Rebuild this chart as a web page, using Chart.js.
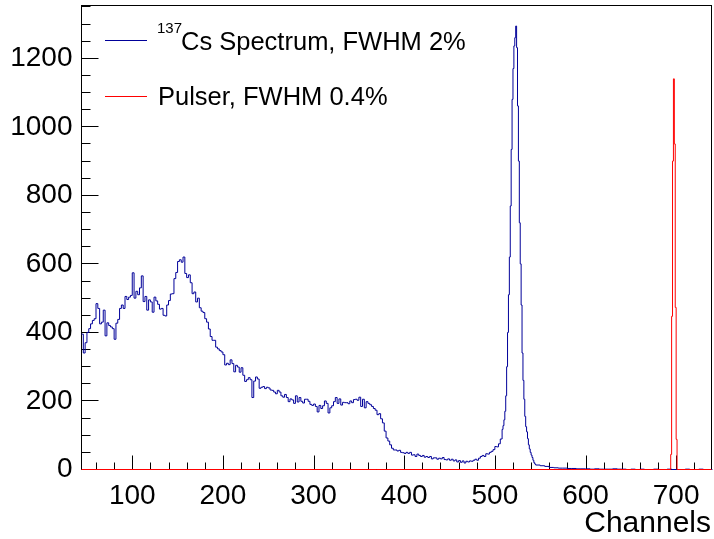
<!DOCTYPE html>
<html>
<head>
<meta charset="utf-8">
<script src="https://cdn.jsdelivr.net/npm/chart.js@4.4.1/dist/chart.umd.min.js"></script>
<style>
  html, body { margin: 0; padding: 0; background: #fff; }
  #chart { display: block; }
</style>
</head>
<body>
<canvas id="chart" width="714" height="539"></canvas>
<script>
Chart.defaults.devicePixelRatio = 1;
Chart.defaults.responsive = false;
Chart.defaults.maintainAspectRatio = false;
Chart.defaults.font.family = '"Liberation Sans", Arial, sans-serif';

// axis ranges and tick labels
const xRange = [44, 739];
const yRange = [0, 1354];
const xTickValues = [100, 200, 300, 400, 500, 600, 700];
const yTickValues = [0, 200, 400, 600, 800, 1000, 1200];
const xMinorStep = 20;
const yMinorStep = 50;

// 137Cs spectrum, counts per bin: [start channel, bin width, counts]
const csLowStart = 44, csLowWidth = 2;
const csLow = [
  395, 340, 370, 400, 411, 425, 435, 440, 484, 470,
  425, 430, 465, 390, 428, 420, 416, 411, 380, 427,
  438, 470, 480, 470, 505, 496, 503, 508, 574, 500,
  520, 510, 530, 565, 490, 505, 465, 495, 489, 459,
  503, 492, 482, 468, 470, 450, 448, 480, 493, 512,
  513, 557, 575, 607, 612, 605, 620, 572, 560, 568,
  545, 513, 518, 489, 500, 472, 462, 458, 440, 430,
  410, 388, 377, 377, 357, 352, 347, 343, 335, 305,
  310, 306, 320, 309, 285, 304, 299, 284, 297, 275,
  257, 262, 268, 262, 210, 258, 270, 264, 237, 240,
  242, 236, 240, 238, 232, 231, 226, 221, 231, 226,
  215, 211, 219, 210, 198, 206, 203, 193, 215, 197,
  210, 199, 194, 205, 205, 199, 190, 187, 191, 184,
  168, 187, 178, 186, 200, 193, 165, 180, 186, 198,
  210, 193, 206, 188, 196, 195, 195, 192, 200, 195,
  204, 205, 202, 211, 184, 205, 180, 198, 193, 189,
  184, 178, 173, 160, 163, 148, 136, 112, 92, 83,
  72, 62, 57, 57, 54, 56
];
const csValleyStart = 396, csValleyWidth = 2;
const csValley = [
  50, 49, 47, 50, 47, 50, 42, 43, 38, 45,
  41, 38, 41, 36, 38, 35, 38, 31, 34, 34,
  30, 33, 31, 35, 29, 28, 31, 27, 30, 25,
  28, 22, 26, 21, 25, 19, 24, 22, 25, 24,
  27, 30, 27, 33, 38, 41, 38, 46, 45, 50,
  53, 58, 67, 66, 75, 89
];
const csPeakStart = 508, csPeakWidth = 1;
const csPeak = [
  117, 128, 145, 170, 215, 300, 400, 510, 620, 769,
  934, 1080, 1170, 1236, 1260, 1294, 1231, 1061, 900, 720,
  600, 480, 340, 260, 205, 155, 125, 110, 90, 72,
  60, 50, 42, 35, 27, 20, 16
];
const csTailStart = 545, csTailWidth = 5;
const csTail = [
  13, 11, 9, 6, 5, 4, 4, 3, 3, 2,
  2, 2, 1, 2, 1, 1, 1, 2, 1, 1,
  0, 1, 0, 1, 0, 0, 1, 0, 0, 1,
  0, 0, 0, 1, 0, 0, 1, 0, 0
];

// pulser peak, one channel per bin, zero elsewhere
const pulserStart = 694, pulserWidth = 1;
const pulser = [44, 447, 900, 1140, 950, 473, 88];

const legendLabels = ["Cs Spectrum, FWHM 2%", "Pulser, FWHM 0.4%"];
const legendSup = "137";
const xTitle = "Channels";

const blue = "#000099";
const red = "#ff0000";

function histPoints(segments, end) {
  const pts = [];
  segments.forEach(([start, width, counts]) => {
    counts.forEach((c, i) => pts.push({ x: start + i * width, y: c }));
  });
  pts.push({ x: end, y: pts[pts.length - 1].y });
  return pts;
}

const csPoints = histPoints([
  [csLowStart, csLowWidth, csLow],
  [csValleyStart, csValleyWidth, csValley],
  [csPeakStart, csPeakWidth, csPeak],
  [csTailStart, csTailWidth, csTail],
], csTailStart + csTail.length * csTailWidth);

const pulserEnd = pulserStart + pulser.length * pulserWidth;
const pulserPoints = histPoints([
  [xRange[0], pulserStart - xRange[0], [0]],
  [pulserStart, pulserWidth, pulser],
  [pulserEnd, xRange[1] - pulserEnd, [0]],
], xRange[1]);

const rootFrame = {
  id: "rootFrame",
  beforeDatasetsDraw(chart) {
    const { ctx, chartArea: a, scales } = chart;
    const x = scales.x, y = scales.y;
    ctx.save();
    ctx.strokeStyle = "#000";
    ctx.lineWidth = 1;
    ctx.strokeRect(a.left, a.top, a.right - a.left, a.bottom - a.top);
    ctx.beginPath();
    for (let v = Math.ceil(xRange[0] / xMinorStep) * xMinorStep; v <= xRange[1]; v += xMinorStep) {
      const px = Math.round(x.getPixelForValue(v)) + 0.5;
      const len = v % 100 === 0 ? 14 : 7;
      ctx.moveTo(px, a.bottom);
      ctx.lineTo(px, a.bottom - len);
    }
    for (let v = 0; v <= yRange[1]; v += yMinorStep) {
      const py = Math.round(y.getPixelForValue(v) - 0.5) + 0.5;
      const len = v % 200 === 0 ? 17 : 9;
      ctx.moveTo(a.left, py);
      ctx.lineTo(a.left + len, py);
    }
    ctx.stroke();
    ctx.restore();
  },
  afterDraw(chart) {
    const { ctx } = chart;
    ctx.save();
    ctx.lineWidth = 1;
    const rows = [
      { color: blue, y: 40.5, base: 50 },
      { color: red, y: 96.5, base: 105 },
    ];
    rows.forEach((r) => {
      ctx.strokeStyle = r.color;
      ctx.beginPath();
      ctx.moveTo(105, r.y);
      ctx.lineTo(147, r.y);
      ctx.stroke();
    });
    ctx.fillStyle = "#000";
    ctx.textAlign = "left";
    ctx.textBaseline = "alphabetic";
    ctx.font = '15px "Liberation Sans", Arial, sans-serif';
    ctx.fillText(legendSup, 157, 33);
    ctx.font = '25.5px "Liberation Sans", Arial, sans-serif';
    ctx.fillText(legendLabels[0], 181, rows[0].base);
    ctx.fillText(legendLabels[1], 158, rows[1].base);
    ctx.font = '30px "Liberation Sans", Arial, sans-serif';
    ctx.textAlign = "right";
    ctx.fillText(xTitle, 711, 532);
    ctx.restore();
  },
};

new Chart(document.getElementById("chart"), {
  type: "line",
  data: {
    datasets: [
      {
        label: "Pulser, FWHM 0.4%",
        data: pulserPoints,
        borderColor: red,
        borderWidth: 1,
        stepped: "before",
        pointRadius: 0,
        fill: false,
        clip: 3,
      },
      {
        label: "137Cs Spectrum, FWHM 2%",
        data: csPoints,
        borderColor: blue,
        borderWidth: 1,
        stepped: "before",
        pointRadius: 0,
        fill: false,
        clip: 3,
      },
    ],
  },
  options: {
    responsive: false,
    animation: false,
    layout: { padding: { top: 5.5, right: 2.5, left: 0, bottom: 0 } },
    plugins: { legend: { display: false }, tooltip: { enabled: false } },
    scales: {
      x: {
        type: "linear",
        min: xRange[0],
        max: xRange[1],
        afterBuildTicks: (s) => { s.ticks = xTickValues.map((v) => ({ value: v })); },
        afterFit: (s) => {
          s.height = 69.5;
          s.paddingLeft = 0;
          s.paddingRight = 0;
        },
        grid: { display: false, drawTicks: false },
        border: { display: false },
        ticks: {
          autoSkip: false,
          maxRotation: 0,
          padding: 10,
          color: "#000",
          font: { size: 28 },
          callback: (v) => String(v),
        },
      },
      y: {
        type: "linear",
        min: yRange[0],
        max: yRange[1],
        afterBuildTicks: (s) => { s.ticks = yTickValues.map((v) => ({ value: v })); },
        afterFit: (s) => {
          s.width = 81.5;
          s.paddingTop = 0;
          s.paddingBottom = 0;
        },
        grid: { display: false, drawTicks: false },
        border: { display: false },
        ticks: {
          autoSkip: false,
          padding: 9,
          color: "#000",
          font: { size: 28 },
          callback: (v) => String(v),
        },
      },
    },
  },
  plugins: [rootFrame],
});
</script>
</body>
</html>
